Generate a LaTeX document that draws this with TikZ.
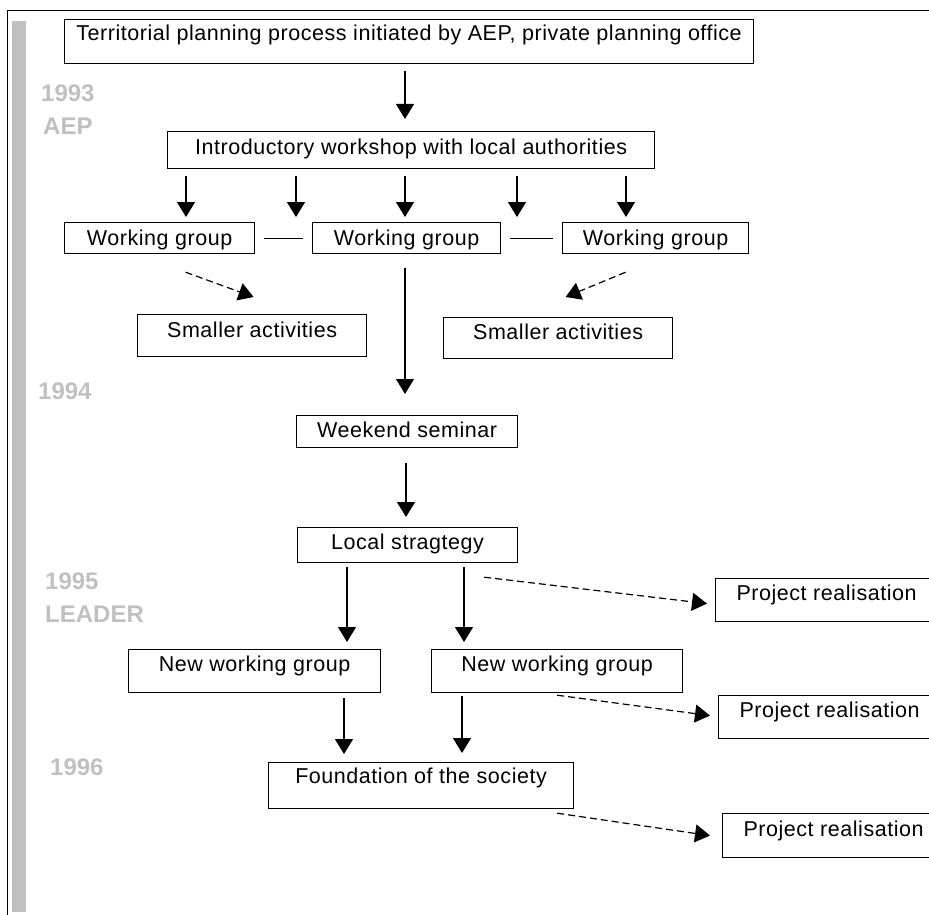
\documentclass[tikz,border=0pt]{standalone}
\usepackage{fontspec}
\setmainfont{Liberation Sans}
\newfontfamily\boxfont[LetterSpace=2.5]{Liberation Sans}
\usetikzlibrary{arrows.meta}
\definecolor{yeargray}{HTML}{C0C0C0}
\begin{document}
\begin{tikzpicture}[x=1pt,y=-1pt,
  box/.style={draw, line width=1.2pt, inner sep=0pt, anchor=north west,
    font=\boxfont\fontsize{21.5}{25}\selectfont},
  year/.style={anchor=base west, inner sep=0pt, text=yeargray,
    font=\bfseries\fontsize{24}{28}\selectfont},
  arr/.style={line width=1.2pt, -{Triangle[length=15pt,width=18pt]}},
  darr/.style={arr, dash pattern=on 7pt off 4pt},
  link/.style={line width=1.2pt}]
\useasboundingbox (0,0) rectangle (929,915);
\clip (0,0) rectangle (929,915);

% page frame and timeline bar
\draw[line width=1pt] (7,915) -- (7,11) -- (929,11);
\fill[yeargray] (12,21) rectangle (26,912);

% years
\node[year] (y93) at (41,102) {1993};
\node[year] (aep) at (43,135) {AEP};
\node[year] (y94) at (38,399) {1994};
\node[year] (y95) at (45,589) {1995};
\node[year] (leader) at (45,622) {LEADER};
\node[year] (y96) at (50,775) {1996};

% boxes
\node[box, minimum width=689pt, text height=21pt, text depth=23pt] (terr) at (64,19)
  {Territorial planning process initiated by AEP, private planning office};
\node[box, minimum width=487pt, text height=23pt, text depth=14pt] (intro) at (167,131)
  {Introductory workshop with local authorities};
\node[box, minimum width=190pt, text height=23pt, text depth=8pt] (wg1) at (64,222) {Working group};
\node[box, minimum width=188pt, text height=23pt, text depth=8pt] (wg2) at (312,222) {Working group};
\node[box, minimum width=186pt, text height=23pt, text depth=8pt] (wg3) at (562,222) {Working group};
\node[box, minimum width=229pt, text height=23pt, text depth=19pt] (sa1) at (137,314) {Smaller activities};
\node[box, minimum width=229pt, text height=22pt, text depth=19pt] (sa2) at (443,317) {Smaller activities};
\node[box, minimum width=221pt, text height=22pt, text depth=10pt] (week) at (296,415) {Weekend seminar};
\node[box, minimum width=220pt, text height=22pt, text depth=13pt] (local) at (297,527) {Local stragtegy};
\node[box, minimum width=252pt, text height=22pt, text depth=21pt] (nwg1) at (128,649) {New working group};
\node[box, minimum width=251pt, text height=22pt, text depth=21pt] (nwg2) at (431,649) {New working group};
\node[box, minimum width=305pt, text height=21pt, text depth=25pt] (found) at (268,762) {Foundation of the society};
\node[box, minimum width=222pt, text height=22pt, text depth=21pt] (pr1) at (715,578) {Project realisation};
\node[box, minimum width=222pt, text height=22pt, text depth=21pt] (pr2) at (718,695) {Project realisation};
\node[box, minimum width=222pt, text height=23pt, text depth=21pt] (pr3) at (722,813) {Project realisation};

% solid flow
\draw[arr, shorten <=7pt, shorten >=12pt] (terr.south -| 405,0) -- (intro.north -| 405,0);
\foreach \x/\g in {186/wg1, 296/wg1, 405/wg2, 517/wg2, 626/wg3}
  \draw[arr, shorten <=7pt, shorten >=5pt] (intro.south -| \x,0) -- (\g.north -| \x,0);
\draw[link] ([xshift=9pt]wg1.east) -- ([xshift=-9pt]wg2.west);
\draw[link] ([xshift=9pt]wg2.east) -- ([xshift=-9pt]wg3.west);
\draw[arr, shorten <=14pt, shorten >=21pt] (wg2.south -| 405,0) -- (week.north -| 405,0);
\draw[arr, shorten <=15pt, shorten >=10pt] (week.south -| 406,0) -- (local.north -| 406,0);
\draw[arr, shorten <=4pt, shorten >=7pt] (local.south -| 347,0) -- (nwg1.north -| 347,0);
\draw[arr, shorten <=4pt, shorten >=7pt] (local.south -| 464,0) -- (nwg2.north -| 464,0);
\draw[arr, shorten <=5pt, shorten >=8pt] (nwg1.south -| 344,0) -- (found.north -| 344,0);
\draw[arr, shorten <=3pt, shorten >=9pt] (nwg2.south -| 462,0) -- (found.north -| 462,0);

% dashed side branches
\draw[darr] ([shift={(26,18)}]wg1.south) -- ([shift={(1.5,-17)}]sa1.north);
\draw[darr] ([shift={(-30,18)}]wg3.south) -- ([shift={(7.5,-20)}]sa2.north);
\draw[darr] ([shift={(-34,14)}]local.south east) -- ([shift={(-8,3.5)}]pr1.west);
\draw[darr] ([shift={(-126,2)}]nwg2.south east) -- ([shift={(-8,-1.5)}]pr2.west);
\draw[darr] ([shift={(-17,4)}]found.south east) -- ([shift={(-12,0)}]pr3.west);
\end{tikzpicture}
\end{document}
